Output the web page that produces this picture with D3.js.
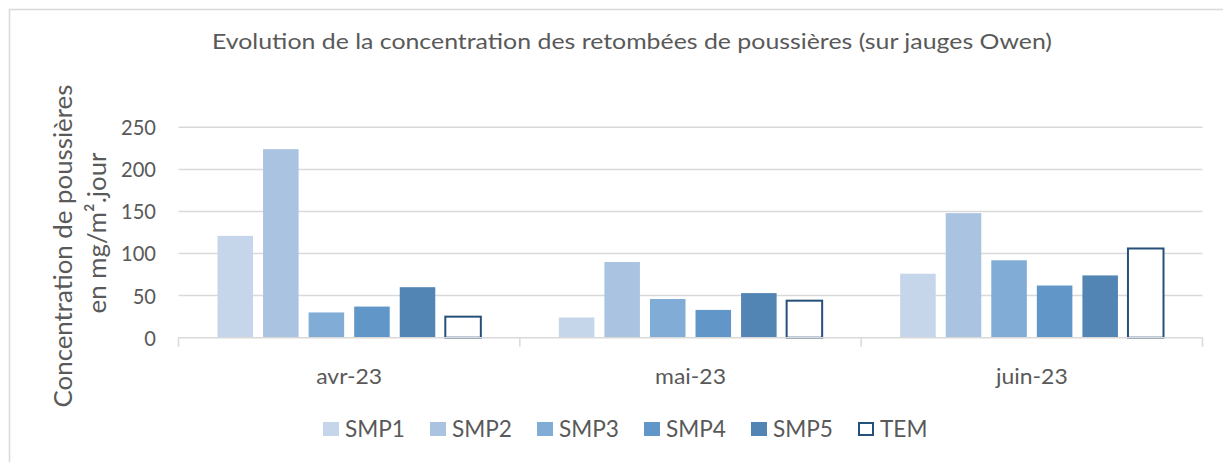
<!DOCTYPE html>
<html>
<head>
<meta charset="utf-8">
<script src="https://cdn.jsdelivr.net/npm/d3@7"></script>
<style>
  body { margin: 0; background: #fff; }
  text { font-family: Lato, "Open Sans", sans-serif; fill: #595959; }
</style>
</head>
<body>
<script>
// data
const months = ['avr-23', 'mai-23', 'juin-23'];
const series = ['SMP1', 'SMP2', 'SMP3', 'SMP4', 'SMP5', 'TEM'];
const SMP1 = [121, 24, 76];
const SMP2 = [224, 90, 148];
const SMP3 = [30, 46, 92];
const SMP4 = [37, 33, 62];
const SMP5 = [60, 53, 74];
const TEM = [25, 44, 106];
const yTicks = [0, 50, 100, 150, 200, 250];
const colors = ['#C5D5EA', '#A9C3E1', '#80ACD6', '#6096C8', '#5284B4', '#ffffff'];

const values = [SMP1, SMP2, SMP3, SMP4, SMP5, TEM];
const rows = [];
months.forEach(function(m, i) {
    series.forEach(function(s, j) {
        rows.push({month: m, serie: s, value: values[j][i], idx: j});
    });
});

const W = 1223, H = 462;
const svg = d3.select('body').append('svg')
    .attr('width', W)
    .attr('height', H);

// outer frame (light grey, cut at right/bottom in the reference)
svg.append('path')
    .attr('d', 'M9.5,' + H + 'V9.5H' + W)
    .attr('fill', 'none')
    .attr('stroke', '#D9D9D9')
    .attr('stroke-width', 1.5);

const x = d3.scaleBand().domain(months).range([178.5, 1202.5]).padding(0);
const xs = d3.scaleBand().domain(series).range([39, x.bandwidth() - 39]).paddingInner(0.22).paddingOuter(0);
const y = d3.scaleLinear().domain([0, 250]).range([337.7, 127.3]);

// keep the glyph height, bring the width to what the reference shows
function squeeze(sel, refNode, target) {
    const k = target / refNode.getComputedTextLength();
    sel.each(function() {
        const w = this.getComputedTextLength();
        d3.select(this).attr('textLength', w * k).attr('lengthAdjust', 'spacingAndGlyphs');
    });
    return k;
}

// gridlines
svg.append('g').selectAll('line')
    .data(yTicks.filter(d => d > 0))
    .enter()
    .append('line')
    .attr('x1', 178.5)
    .attr('x2', 1202.5)
    .attr('y1', d => y(d))
    .attr('y2', d => y(d))
    .attr('stroke', '#D9D9D9')
    .attr('stroke-width', 1.5);

// bars
svg.append('g').selectAll('rect')
    .data(rows)
    .enter()
    .append('rect')
    .attr('x', d => x(d.month) + xs(d.serie))
    .attr('width', xs.bandwidth())
    .attr('y', d => y(d.value))
    .attr('height', d => y(0) - y(d.value))
    .attr('fill', d => colors[d.idx])
    .attr('stroke', d => d.serie == 'TEM' ? '#264F7A' : 'none')
    .attr('stroke-width', 2);

// x axis line + category ticks
const xAxis = svg.append('g').attr('transform', 'translate(0,' + y(0) + ')');
xAxis.append('line')
    .attr('x1', 178.5).attr('x2', 1202.5)
    .attr('stroke', '#D9D9D9').attr('stroke-width', 1.5);
xAxis.selectAll('.tk')
    .data(months.map(m => x(m)).concat([x.range()[1]]))
    .enter()
    .append('line')
    .attr('x1', d => d).attr('x2', d => d)
    .attr('y1', 0).attr('y2', 9)
    .attr('stroke', '#D9D9D9').attr('stroke-width', 1.5);

// category labels
const catLabels = svg.append('g').selectAll('text')
    .data(months)
    .enter()
    .append('text')
    .attr('x', d => x(d) + x.bandwidth() / 2)
    .attr('y', 384)
    .attr('text-anchor', 'middle')
    .attr('font-size', 22)
    .text(d => d);
squeeze(catLabels, catLabels.nodes()[0], 66);

// y tick labels
const yLabels = svg.append('g').selectAll('text')
    .data(yTicks)
    .enter()
    .append('text')
    .attr('x', 156)
    .attr('y', d => y(d))
    .attr('dy', '0.36em')
    .attr('text-anchor', 'end')
    .attr('font-size', 22)
    .text(d => d);
squeeze(yLabels, yLabels.nodes()[5], 35);

// title
const title = svg.append('text')
    .attr('x', 632)
    .attr('y', 49)
    .attr('text-anchor', 'middle')
    .attr('font-size', 21)
    .text('Evolution de la concentration des retombées de poussières (sur jauges Owen)');
squeeze(title, title.node(), 840);

// y axis title
const yt1 = svg.append('text')
    .attr('transform', 'translate(72,246) rotate(-90)')
    .attr('text-anchor', 'middle')
    .attr('font-size', 24)
    .text('Concentration de poussières');
const ytFs = 24 * 323 / yt1.node().getComputedTextLength();
yt1.attr('font-size', ytFs);
svg.append('text')
    .attr('transform', 'translate(106,233) rotate(-90)')
    .attr('text-anchor', 'middle')
    .attr('font-size', ytFs)
    .text('en mg/m².jour');

// legend
const legend = svg.append('g');
let lx = 323;
let legK = null;
series.forEach(function(s, i) {
    const item = legend.append('g').attr('transform', 'translate(' + lx + ',0)');
    item.append('rect')
        .attr('x', s == 'TEM' ? 1 : 0)
        .attr('y', s == 'TEM' ? 423 : 422)
        .attr('width', s == 'TEM' ? 14 : 16)
        .attr('height', s == 'TEM' ? 12 : 14)
        .attr('fill', colors[i])
        .attr('stroke', s == 'TEM' ? '#264F7A' : 'none')
        .attr('stroke-width', 2);
    const t = item.append('text')
        .attr('x', 22)
        .attr('y', 437)
        .attr('font-size', 23)
        .text(s);
    const w = t.node().getComputedTextLength();
    if (legK == null) legK = 60 / w;
    t.attr('textLength', w * legK).attr('lengthAdjust', 'spacingAndGlyphs');
    lx += 22 + w * legK + 25;
});
</script>
</body>
</html>
